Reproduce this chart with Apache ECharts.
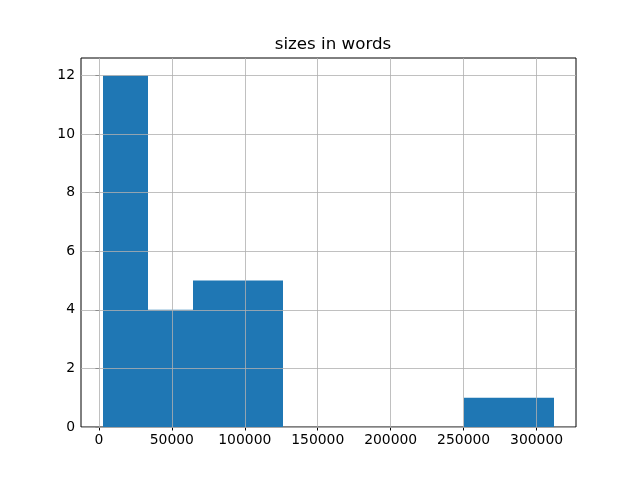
<!DOCTYPE html>
<html><head><meta charset="utf-8">
<script src="https://cdn.jsdelivr.net/npm/echarts@6/dist/echarts.min.js"></script>
<style>html,body{margin:0;padding:0;background:#fff}#c{width:640px;height:480px}</style>
</head><body><div id="c"></div>
<script>
const title = "sizes in words";
const binEdges = [3150, 33995, 64840, 95685, 126530, 157375, 188220, 219065, 249910, 280755, 311600];
const counts = [12, 4, 5, 5, 0, 0, 0, 0, 1, 1];
const xTicks = [0, 50000, 100000, 150000, 200000, 250000, 300000];
const yTicks = [0, 2, 4, 6, 8, 10, 12];

const xMin = -12272, xMax = 327022, yMin = 0, yMax = 12.6;
const font = "DejaVu Sans";
const bars = counts.map((c, i) => [binEdges[i], binEdges[i + 1], c]);

const gridLines = [];
xTicks.forEach(v => gridLines.push({xAxis: v}));
yTicks.forEach(v => gridLines.push({yAxis: v}));

const chart = echarts.init(document.getElementById('c'), null, {renderer: 'canvas'});
chart.setOption({
  animation: false,
  title: {text: title, left: 328, textAlign: 'center', top: 31,
    textStyle: {fontFamily: font, fontSize: 16.7, fontWeight: 'normal', color: '#000'}},
  grid: {left: 81, right: 64, top: 58, bottom: 53, show: true, borderColor: '#000', borderWidth: 1, backgroundColor: 'transparent'},
  xAxis: {type: 'value', min: xMin, max: xMax,
    axisLine: {show: false},
    axisTick: {show: true, length: 3.5, customValues: xTicks, lineStyle: {color: '#000', width: 1}},
    axisLabel: {customValues: xTicks, margin: 6, fontFamily: font, fontSize: 13.9, color: '#000',
      formatter: v => String(v)},
    splitLine: {show: false}},
  yAxis: {type: 'value', min: yMin, max: yMax,
    axisLine: {show: false},
    axisTick: {show: true, length: 3.5, customValues: yTicks, lineStyle: {color: '#000', width: 1}},
    axisLabel: {customValues: yTicks, margin: 6, fontFamily: font, fontSize: 13.9, color: '#000',
      formatter: v => String(v)},
    splitLine: {show: false}},
  series: [{
    type: 'custom',
    data: bars,
    encode: {x: [0, 1], y: 2},
    renderItem: function (params, api) {
      const p0 = api.coord([api.value(0), api.value(2)]);
      const p1 = api.coord([api.value(1), 0]);
      const x0 = Math.round(p0[0]), x1 = Math.round(p1[0]);
      return {type: 'rect', shape: {x: x0, y: p0[1], width: x1 - x0, height: p1[1] - p0[1]},
        style: {fill: '#1f77b4'}};
    },
    z: 2,
    markLine: {
      silent: true, symbol: 'none', label: {show: false}, z: 5,
      lineStyle: {color: '#b0b0b0', width: 0.8, type: 'solid'},
      data: gridLines
    }
  }]
});
</script></body></html>
